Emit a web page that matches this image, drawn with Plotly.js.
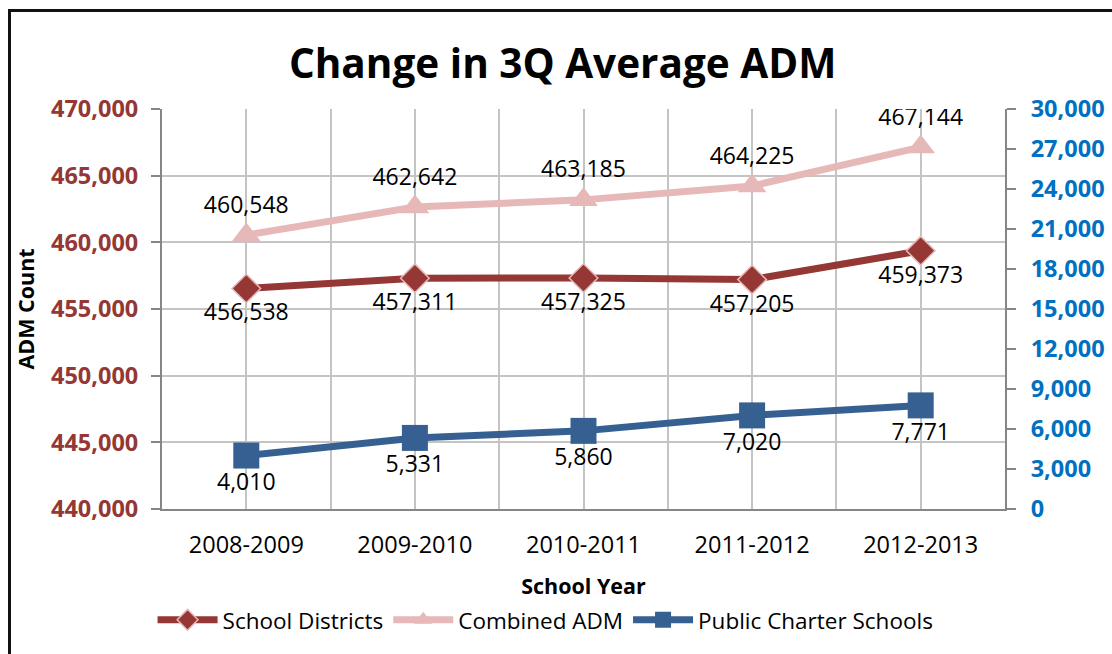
<!DOCTYPE html>
<html>
<head>
<meta charset="utf-8">
<script src="https://cdn.plot.ly/plotly-3.0.1.min.js"></script>
<style>
  html, body { margin: 0; padding: 0; background: #fff; }
  #wrap { position: relative; width: 1112px; height: 654px; overflow: hidden; }
  #chart { position: absolute; left: 0; top: 0; width: 1112px; height: 654px; }
  #frame { position: absolute; left: 8px; top: 9px; width: 1120px; height: 660px;
           border-left: 3px solid #111; border-top: 3px solid #111; pointer-events: none; }
</style>
</head>
<body>
<div id="wrap">
  <div id="chart"></div>
  <div id="frame"></div>
</div>
<script>
const categories = ['2008-2009', '2009-2010', '2010-2011', '2011-2012', '2012-2013'];
const schoolDistricts = [456538, 457311, 457325, 457205, 459373];
const combinedADM = [460548, 462642, 463185, 464225, 467144];
const charterSchools = [4010, 5331, 5860, 7020, 7771];

const FONT = 'Open Sans, Lato, sans-serif';
const idx = categories.map((c, i) => i);
const fmt = v => v.toLocaleString('en-US');

const traces = [
  {
    name: 'School Districts', x: idx, y: schoolDistricts, yaxis: 'y',
    mode: 'lines+markers+text', text: schoolDistricts.map(fmt),
    textposition: 'bottom center', textfont: {family: FONT, size: 23, color: '#000'},
    line: {color: '#953735', width: 7},
    marker: {symbol: 'diamond', size: 22, color: '#953735', line: {color: '#E6B9B8', width: 1.5}}
  },
  {
    name: 'Combined ADM', x: idx, y: combinedADM, yaxis: 'y',
    mode: 'lines+markers+text', text: combinedADM.map(fmt),
    textposition: 'top center', textfont: {family: FONT, size: 23, color: '#000'},
    line: {color: '#E6B9B8', width: 7},
    marker: {symbol: 'triangle-up', size: 25, color: '#E6B9B8'}
  },
  {
    name: 'Public Charter Schools', x: idx, y: charterSchools, yaxis: 'y2',
    mode: 'lines+markers+text', text: charterSchools.map(fmt),
    textposition: 'bottom center', textfont: {family: FONT, size: 23, color: '#000'},
    line: {color: '#376092', width: 7},
    marker: {symbol: 'square', size: 26, color: '#376092'}
  }
];

const layout = {
  width: 1112, height: 654,
  margin: {l: 162, r: 107, t: 109, b: 145},
  paper_bgcolor: '#fff', plot_bgcolor: '#fff',
  font: {family: FONT, color: '#000'},
  title: {
    text: '<b>Change in 3Q Average ADM</b>',
    font: {family: FONT, size: 40.5, color: '#000'},
    x: 0.506, xanchor: 'center', y: 0.902, yanchor: 'middle'
  },
  showlegend: true,
  legend: {
    orientation: 'h', x: 0.455, xanchor: 'center', y: -0.278, yanchor: 'middle',
    font: {family: FONT, size: 22.5, color: '#000'}, itemwidth: 60, traceorder: 'normal'
  },
  xaxis: {
    type: 'linear', range: [-0.5, 4.5], tickmode: 'array', tickvals: idx, ticktext: categories,
    showgrid: true, gridcolor: '#C4C4C4', gridwidth: 2,
    minor: {tickmode: 'array', tickvals: categories.map((c, i) => i + 0.5), showgrid: true,
            gridcolor: '#C4C4C4', gridwidth: 2, ticks: ''},
    showline: true, linecolor: '#868686', linewidth: 2, ticks: '', zeroline: false,
    tickfont: {family: FONT, size: 23.5, color: '#000'}, ticklabelstandoff: 14,
    title: {text: '<b>School Year</b>', font: {family: FONT, size: 21.5, color: '#000'}, standoff: 20},
    fixedrange: true
  },
  yaxis: {
    range: [440000, 470000], dtick: 5000, tickformat: ',',
    showgrid: true, gridcolor: '#C4C4C4', gridwidth: 2, zeroline: false,
    showline: true, linecolor: '#868686', linewidth: 2,
    ticks: 'outside', ticklen: 9, tickwidth: 2, tickcolor: '#868686',
    tickfont: {family: FONT, size: 23.5, color: '#953735', weight: 'bold'}, ticklabelstandoff: 8,
    title: {text: '<b>ADM Count</b>', font: {family: FONT, size: 21.5, color: '#000'}, standoff: 10},
    fixedrange: true
  },
  yaxis2: {
    overlaying: 'y', side: 'right', range: [0, 30000], dtick: 3000, tickformat: ',',
    showgrid: false, zeroline: false,
    showline: true, linecolor: '#868686', linewidth: 2,
    ticks: 'outside', ticklen: 9, tickwidth: 2, tickcolor: '#868686',
    tickfont: {family: FONT, size: 23.5, color: '#0070C0', weight: 'bold'}, ticklabelstandoff: 10,
    fixedrange: true
  }
};

Plotly.newPlot('chart', traces, layout, {displayModeBar: false, staticPlot: true});
</script>
</body>
</html>
